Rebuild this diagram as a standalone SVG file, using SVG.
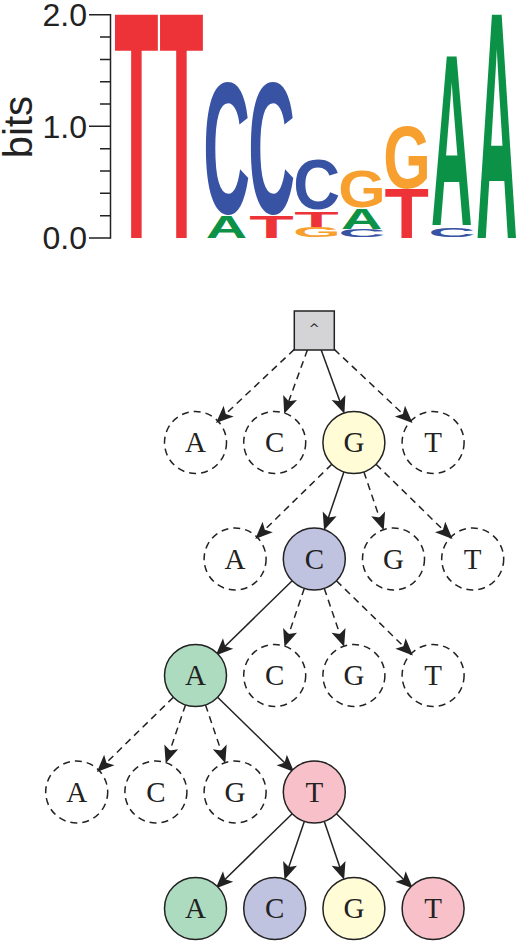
<svg xmlns="http://www.w3.org/2000/svg" width="521" height="942" viewBox="0 0 521 942">
<style>
.lg{font-family:"Liberation Sans",Arial,sans-serif;font-weight:bold;font-size:100px}
.tA{fill:#0c9247}.tC{fill:#3953a4}.tG{fill:#f7a030}.tT{fill:#ed3338}
.ax{stroke:#222;stroke-width:1.5;fill:none}
.axl{font-family:"Liberation Sans",Arial,sans-serif;font-size:32px;fill:#222;text-anchor:end}
.bits{font-family:"Liberation Sans",Arial,sans-serif;font-size:40px;fill:#222;text-anchor:middle}
.n{stroke:#222;stroke-width:1.5}
.d{fill:none;stroke:#222;stroke-width:1.5;stroke-dasharray:7 5}
.fA{fill:#addbbf}.fC{fill:#c0c3e0}.fG{fill:#fffcd6}.fT{fill:#f8c0c8}
.lab{font-family:"Liberation Serif","Times New Roman",serif;font-size:29px;fill:#222;text-anchor:middle}
.e{fill:none;stroke:#222;stroke-width:1.5;marker-end:url(#ah)}
.ed{stroke-dasharray:7 5}
</style>
<defs>
<marker id="ah" markerUnits="userSpaceOnUse" orient="auto" refX="-4" refY="0" markerWidth="24" markerHeight="24" viewBox="-16 -8 18 16" overflow="visible">
<path d="M0,0 L-13,-5.5 L-10,0 L-13,5.5 Z" fill="#222"/>
</marker>
</defs>

<g id="logo">
<g id="axis">
<line class="ax" x1="110.5" y1="14" x2="110.5" y2="238.7"/>
<path class="ax" d="M89,14.7H110.5M89,126.35H110.5M89,238H110.5M100,37H110.5M100,59.4H110.5M100,81.7H110.5M100,104H110.5M100,148.7H110.5M100,171H110.5M100,193.3H110.5M100,215.7H110.5"/>
<text class="axl" x="87" y="26.1">2.0</text>
<text class="axl" x="87" y="137.8">1.0</text>
<text class="axl" x="87" y="249.4">0.0</text>
<text class="bits" transform="translate(31.5,127) rotate(-90)">bits</text>
</g>
<g id="letters">
<text class="lg tT" transform="translate(114.17,238) scale(0.7276,3.2456)">T</text>
<text class="lg tT" transform="translate(159.22,238) scale(0.7276,3.2456)">T</text>
<text class="lg tC" transform="translate(203.27,212.74) scale(0.6479,1.8820)">C</text>
<text class="lg tA" transform="translate(205.8,238) scale(0.5734,0.3125)">A</text>
<text class="lg tC" transform="translate(248.32,212.74) scale(0.6479,1.8820)">C</text>
<text class="lg tT" transform="translate(249.32,238) scale(0.7276,0.3096)">T</text>
<text class="lg tC" transform="translate(293.37,209.15) scale(0.6479,0.7121)">C</text>
<text class="lg tT" transform="translate(294.37,226.5) scale(0.7276,0.2297)">T</text>
<text class="lg tG" transform="translate(293.22,237.33) scale(0.6097,0.1376)">G</text>
<text class="lg tG" transform="translate(338.27,206.67) scale(0.6097,0.5239)">G</text>
<text class="lg tA" transform="translate(340.95,228.5) scale(0.5734,0.2980)">A</text>
<text class="lg tC" transform="translate(338.42,237.17) scale(0.6479,0.1124)">C</text>
<text class="lg tG" transform="translate(383.32,187.63) scale(0.6097,0.8947)">G</text>
<text class="lg tT" transform="translate(384.47,238) scale(0.7276,0.6977)">T</text>
<text class="lg tA" transform="translate(431.05,225.3) scale(0.5734,2.4506)">A</text>
<text class="lg tC" transform="translate(428.52,237.14) scale(0.6479,0.1348)">C</text>
<text class="lg tA" transform="translate(476.1,238) scale(0.5734,3.2456)">A</text>
</g>
</g>

<g id="connectors">
<path class="e ed" d="M294.3,349.4L219.9,419.4"/>
<path class="e ed" d="M307.4,350L286,408.8"/>
<path class="e" d="M321.2,350L342.6,408.8"/>
<path class="e ed" d="M334.3,349.4L408.7,419.4"/>

<path class="e ed" d="M331.8,464.2L259.1,535.3"/>
<path class="e" d="M343.9,471.9L325.8,525.2"/>
<path class="e ed" d="M363.9,471.9L382,525.2"/>
<path class="e ed" d="M376,464.2L448.7,535.3"/>

<path class="e" d="M292.2,580.7L219.5,651.8"/>
<path class="e ed" d="M304.3,588.4L286.2,641.7"/>
<path class="e ed" d="M324.3,588.4L342.4,641.7"/>
<path class="e ed" d="M336.4,580.7L409.1,651.8"/>

<path class="e ed" d="M173.4,697.2L100.7,768.3"/>
<path class="e ed" d="M185.5,704.9L167.4,758.2"/>
<path class="e ed" d="M205.5,704.9L223.6,758.2"/>
<path class="e" d="M217.6,697.2L290.3,768.3"/>

<path class="e" d="M292.2,813.7L219.5,884.8"/>
<path class="e" d="M304.3,821.4L286.2,874.7"/>
<path class="e" d="M324.3,821.4L342.4,874.7"/>
<path class="e" d="M336.4,813.7L409.1,884.8"/>
</g>

<g id="root"><rect class="n" x="294.3" y="311" width="40" height="39" fill="#d4d4d7"/><text x="314.3" y="332.5" font-family="DejaVu Sans,sans-serif" font-size="13" fill="#222" text-anchor="middle">^</text></g>

<g id="l1A"><circle class="d" cx="195.5" cy="442.5" r="31"/><text class="lab" x="195.5" y="452.1">A</text></g>
<g id="l1C"><circle class="d" cx="274.7" cy="442.5" r="31"/><text class="lab" x="274.7" y="452.1">C</text></g>
<g id="l1G"><circle class="n fG" cx="353.9" cy="442.5" r="31"/><text class="lab" x="353.9" y="452.1">G</text></g>
<g id="l1T"><circle class="d" cx="433.1" cy="442.5" r="31"/><text class="lab" x="433.1" y="452.1">T</text></g>

<g id="l2A"><circle class="d" cx="235.1" cy="559" r="31"/><text class="lab" x="235.1" y="568.6">A</text></g>
<g id="l2C"><circle class="n fC" cx="314.3" cy="559" r="31"/><text class="lab" x="314.3" y="568.6">C</text></g>
<g id="l2G"><circle class="d" cx="393.5" cy="559" r="31"/><text class="lab" x="393.5" y="568.6">G</text></g>
<g id="l2T"><circle class="d" cx="472.7" cy="559" r="31"/><text class="lab" x="472.7" y="568.6">T</text></g>

<g id="l3A"><circle class="n fA" cx="195.5" cy="675.5" r="31"/><text class="lab" x="195.5" y="685.1">A</text></g>
<g id="l3C"><circle class="d" cx="274.7" cy="675.5" r="31"/><text class="lab" x="274.7" y="685.1">C</text></g>
<g id="l3G"><circle class="d" cx="353.9" cy="675.5" r="31"/><text class="lab" x="353.9" y="685.1">G</text></g>
<g id="l3T"><circle class="d" cx="433.1" cy="675.5" r="31"/><text class="lab" x="433.1" y="685.1">T</text></g>

<g id="l4A"><circle class="d" cx="76.7" cy="792" r="31"/><text class="lab" x="76.7" y="801.6">A</text></g>
<g id="l4C"><circle class="d" cx="155.9" cy="792" r="31"/><text class="lab" x="155.9" y="801.6">C</text></g>
<g id="l4G"><circle class="d" cx="235.1" cy="792" r="31"/><text class="lab" x="235.1" y="801.6">G</text></g>
<g id="l4T"><circle class="n fT" cx="314.3" cy="792" r="31"/><text class="lab" x="314.3" y="801.6">T</text></g>

<g id="l5A"><circle class="n fA" cx="195.5" cy="908.5" r="31"/><text class="lab" x="195.5" y="918.1">A</text></g>
<g id="l5C"><circle class="n fC" cx="274.7" cy="908.5" r="31"/><text class="lab" x="274.7" y="918.1">C</text></g>
<g id="l5G"><circle class="n fG" cx="353.9" cy="908.5" r="31"/><text class="lab" x="353.9" y="918.1">G</text></g>
<g id="l5T"><circle class="n fT" cx="433.1" cy="908.5" r="31"/><text class="lab" x="433.1" y="918.1">T</text></g>
</svg>
